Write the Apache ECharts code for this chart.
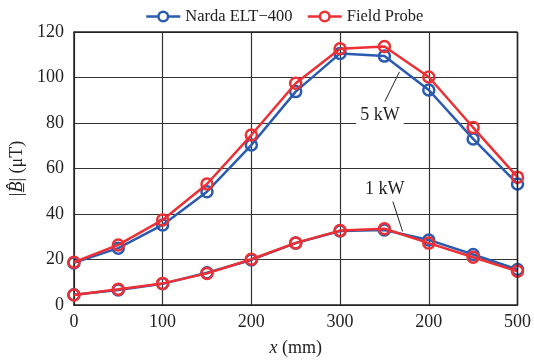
<!DOCTYPE html>
<html>
<head>
<meta charset="utf-8">
<script src="https://cdn.jsdelivr.net/npm/echarts@6/dist/echarts.min.js"></script>
<style>
    html, body {margin: 0; padding: 0; background: #fff;}
    #chart {width: 534px; height: 364px;}
</style>
</head>
<body>
<div id="chart"></div>
<script>
const xValues = [0, 50, 100, 150, 200, 250, 300, 350, 400, 450, 500];
const xTickLabels = ["0", "100", "200", "300", "200", "500"];

const narda5kW = [18.5, 25.0, 35.2, 49.8, 70.3, 93.8, 110.6, 109.4, 94.5, 73.0, 53.2];
const probe5kW = [18.8, 26.4, 37.4, 53.2, 74.7, 97.5, 112.6, 113.6, 100.2, 78.0, 56.2];
const narda1kW = [4.5, 6.6, 9.3, 14.2, 19.8, 27.2, 32.5, 33.0, 28.6, 22.2, 15.6];
const probe1kW = [4.4, 6.9, 9.5, 13.9, 20.1, 27.3, 32.7, 33.5, 27.2, 21.0, 14.8];

const font = "'Liberation Serif', 'Times New Roman', serif";
const blue = "#2a5bb0";
const red = "#ec3034";

const pairs = vals => vals.map((v, i) => [xValues[i], v]);

const lineSeries = (name, color, vals) => ({
    name: name,
    type: "line",
    data: pairs(vals),
    symbol: "circle",
    symbolSize: 11,
    showAllSymbols: true,
    lineStyle: {color: color, width: 2.5},
    itemStyle: {color: "rgba(255,255,255,0)", borderColor: color, borderWidth: 2.5},
    emphasis: {disabled: true},
    z: color === red ? 3 : 2
});

const chart = echarts.init(document.getElementById("chart"), null, {renderer: "canvas"});

chart.setOption({
    animation: false,
    textStyle: {fontFamily: font},
    legend: {
        top: 3,
        left: 140,
        itemWidth: 34,
        itemHeight: 12,
        itemGap: 14,
        textStyle: {fontFamily: font, fontSize: 16.5, color: "#222"},
        data: [
            {name: "Narda ELT\u2212400", itemStyle: {color: "#fff", borderColor: blue, borderWidth: 2.5}, lineStyle: {color: blue, width: 2.5}},
            {name: "Field Probe", itemStyle: {color: "#fff", borderColor: red, borderWidth: 2.5}, lineStyle: {color: red, width: 2.5}}
        ]
    },
    grid: {left: 73, right: 16, top: 32, bottom: 59},
    xAxis: {
        type: "value",
        min: 0,
        max: 500,
        interval: 100,
        name: "{i|x} (mm)",
        nameLocation: "middle",
        nameGap: 34,
        nameTextStyle: {
            fontFamily: font, fontSize: 18, color: "#222",
            rich: {i: {fontFamily: font, fontSize: 18, fontStyle: "italic", color: "#222"}}
        },
        axisLine: {show: true, onZero: false, lineStyle: {color: "#222", width: 1.5}},
        axisTick: {show: false},
        axisLabel: {
            fontFamily: font, fontSize: 18, color: "#222", margin: 8,
            formatter: v => xTickLabels[Math.round(v / 100)]
        },
        splitLine: {show: true, lineStyle: {color: "#333", width: 1.2}}
    },
    yAxis: {
        type: "value",
        min: 0,
        max: 120,
        interval: 20,
        name: "|{i|B\u0332\u0302}| (\u03bcT)",
        nameLocation: "middle",
        nameGap: 44,
        nameTextStyle: {
            fontFamily: font, fontSize: 18, color: "#222",
            rich: {i: {fontFamily: font, fontSize: 18, fontStyle: "italic", color: "#222"}}
        },
        axisLine: {show: true, lineStyle: {color: "#222", width: 1.5}},
        axisTick: {show: false},
        axisLabel: {fontFamily: font, fontSize: 18, color: "#222", margin: 10},
        splitLine: {show: true, lineStyle: {color: "#333", width: 1.2}}
    },
    series: [
        lineSeries("Narda ELT\u2212400", blue, narda5kW),
        lineSeries("Field Probe", red, probe5kW),
        lineSeries("Narda ELT\u2212400", blue, narda1kW),
        lineSeries("Field Probe", red, probe1kW)
    ]
});

// right and top frame edges plus annotations with leader lines
const px = (x, y) => chart.convertToPixel({gridIndex: 0}, [x, y]);
const lead5a = px(350.5, 89.5), lead5b = px(367, 102.5);
const lead1a = px(359.5, 45.5), lead1b = px(370.5, 32.3);
const txt5 = px(345, 83.3), txt1 = px(350.5, 51);
const tl = px(0, 120), br = px(500, 0);

chart.setOption({
    graphic: [
        {type: "line", shape: {x1: tl[0], y1: tl[1], x2: br[0], y2: tl[1]}, style: {stroke: "#222", lineWidth: 1.5}, z: 10},
        {type: "line", shape: {x1: br[0], y1: tl[1], x2: br[0], y2: br[1]}, style: {stroke: "#222", lineWidth: 1.5}, z: 10},
        {type: "line", shape: {x1: lead5a[0], y1: lead5a[1], x2: lead5b[0], y2: lead5b[1]}, style: {stroke: "#222", lineWidth: 1}, z: 10},
        {type: "line", shape: {x1: lead1a[0], y1: lead1a[1], x2: lead1b[0], y2: lead1b[1]}, style: {stroke: "#222", lineWidth: 1}, z: 10},
        {
            type: "text", x: txt5[0], y: txt5[1], z: 10,
            style: {text: "5 kW", font: "18px " + font, fill: "#222", align: "center", verticalAlign: "middle",
                backgroundColor: "#fff", padding: [0, 4, 4, 4]}
        },
        {
            type: "text", x: txt1[0], y: txt1[1], z: 10,
            style: {text: "1 kW", font: "18px " + font, fill: "#222", align: "center", verticalAlign: "middle",
                backgroundColor: "#fff", padding: [0, 3, 2, 3]}
        }
    ]
});
</script>
</body>
</html>
